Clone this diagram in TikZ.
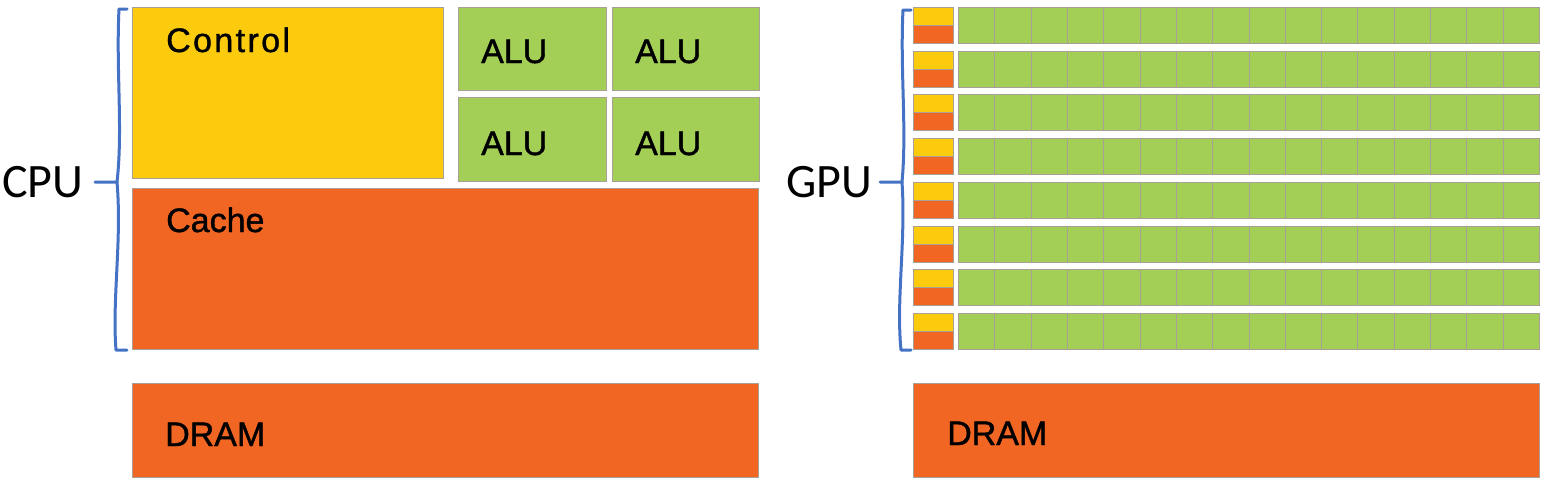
\documentclass[tikz,border=0pt]{standalone}
\usepackage{fontspec}
\newfontfamily\labfont[FakeBold=1.2]{Liberation Sans}
\newfontfamily\ctrlfont[FakeBold=1.2,LetterSpace=7]{Liberation Sans}
\newfontfamily\calfont{Carlito}
\definecolor{cyel}{HTML}{FDCB0E}
\definecolor{corg}{HTML}{F26623}
\definecolor{cgrn}{HTML}{A4CF57}
\definecolor{cbrd}{HTML}{A8A096}
\definecolor{cblu}{HTML}{4472C4}
\tikzset{
  box/.style={draw=cbrd, line width=1pt, inner sep=0pt, anchor=north west},
  yelbox/.style={box, fill=cyel},
  orgbox/.style={box, fill=corg},
  grnbox/.style={box, fill=cgrn},
  lbl/.style={anchor=base west, inner sep=0pt, font=\labfont\fontsize{34}{40}\selectfont},
  ctrllbl/.style={anchor=base west, inner sep=0pt, font=\ctrlfont\fontsize{34}{40}\selectfont},
  biglbl/.style={anchor=base west, inner sep=0pt, font=\calfont\fontsize{48}{58}\selectfont},
  brace/.style={draw=cblu, line width=3pt, line cap=round, line join=round}
}
\begin{document}
\begin{tikzpicture}[x=1pt,y=-1pt]
\useasboundingbox (0,0) rectangle (1542,482);
% CPU
\node[yelbox, minimum width=311pt, minimum height=171pt] (ctrl) at (132,7) {};
\node[ctrllbl] (ctrlt) at (166,52) {Control};
\node[grnbox, minimum width=148pt, minimum height=83pt] (alu1) at (458,7) {};
\node[grnbox, minimum width=147pt, minimum height=83pt] (alu2) at (612,7) {};
\node[grnbox, minimum width=148pt, minimum height=84pt] (alu3) at (458,97) {};
\node[grnbox, minimum width=147pt, minimum height=84pt] (alu4) at (612,97) {};
\node[lbl] (alu1t) at (481,63) {ALU};
\node[lbl] (alu2t) at (635,63) {ALU};
\node[lbl] (alu3t) at (481,155) {ALU};
\node[lbl] (alu4t) at (635,155) {ALU};
\node[orgbox, minimum width=626pt, minimum height=161pt] (cache) at (132,188) {};
\node[lbl] (cachet) at (166,232) {Cache};
\node[orgbox, minimum width=626pt, minimum height=94pt] (dram1) at (132,383) {};
\node[lbl] (dram1t) at (165,446) {DRAM};
% CPU brace
\coordinate (cbt) at (127,9);
\coordinate (cbm) at (117,182);
\coordinate (cbb) at (127,350);
\coordinate (cbtip) at (95,182);
\draw[brace] (cbt) -- (119,9) .. controls (116,70) and (123,130) .. (cbm) -- (cbtip);
\draw[brace] (cbm) .. controls (122,240) and (112,300) .. (116,350) -- (cbb);
\node[biglbl] (cpu) at (2,197) {CPU};
% GPU
\foreach \r in {0,...,7} {
  \pgfmathsetmacro\yt{7+\r*43.714}
  \pgfmathsetmacro\ym{\yt+18}
  \node[yelbox, minimum width=40pt, minimum height=18pt] (gy\r) at (913,\yt) {};
  \node[orgbox, minimum width=40pt, minimum height=18pt] (go\r) at (913,\ym) {};
  \foreach \c in {0,...,15} {
    \pgfmathsetmacro\xl{958+\c*36.3125}
    \node[grnbox, minimum width=36.3125pt, minimum height=36pt] (g\r-\c) at (\xl,\yt) {};
  }
}
\node[orgbox, minimum width=626pt, minimum height=94pt] (dram2) at (913,383) {};
\node[lbl] (dram2t) at (947,445) {DRAM};
% GPU brace
\coordinate (gbt) at (911,10);
\coordinate (gbm) at (902,182);
\coordinate (gbb) at (911,350);
\coordinate (gbtip) at (880,182);
\draw[brace] (gbt) -- (903,10) .. controls (900,70) and (907,130) .. (gbm) -- (gbtip);
\draw[brace] (gbm) .. controls (906,240) and (896,300) .. (901,350) -- (gbb);
\node[biglbl] (gpu) at (786,197) {GPU};
\end{tikzpicture}
\end{document}
